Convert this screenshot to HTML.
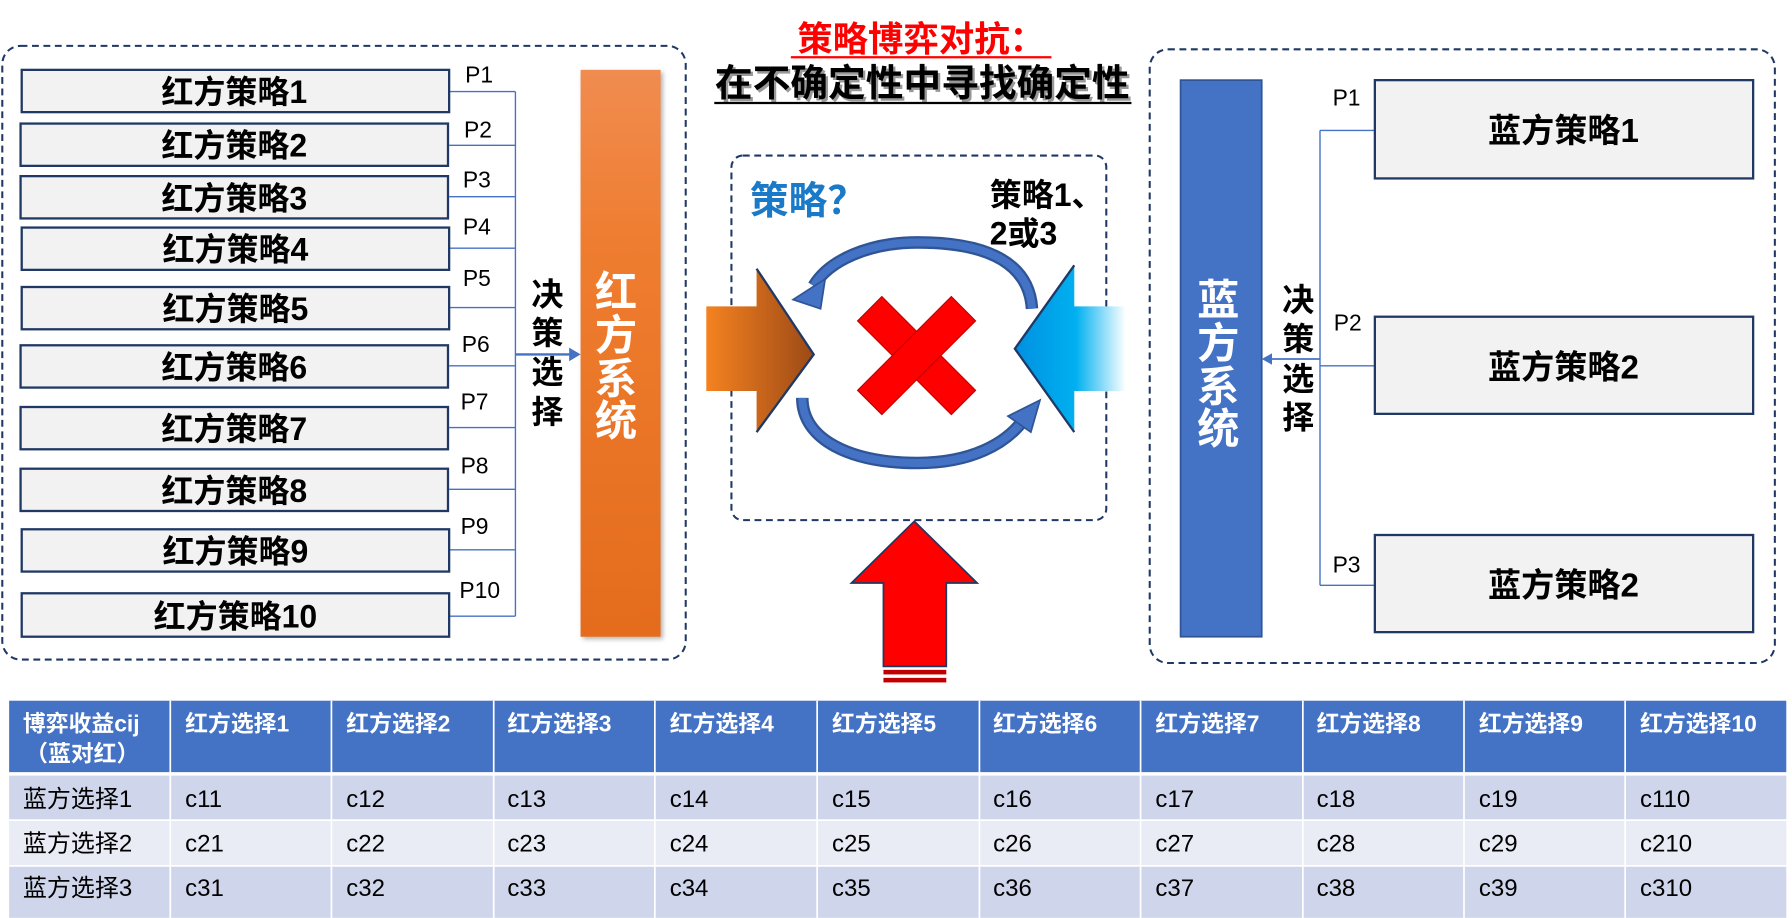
<!DOCTYPE html>
<html><head><meta charset="utf-8"><style>
html,body{margin:0;padding:0;background:#fff;width:1792px;height:918px;overflow:hidden}
svg text{font-family:"Liberation Sans","Noto Sans CJK SC",sans-serif}
</style></head><body>
<svg width="1792" height="918" viewBox="0 0 1568 803" xmlns="http://www.w3.org/2000/svg">
<defs>
<linearGradient id="og" x1="0" y1="0" x2="0" y2="1"><stop offset="0" stop-color="#f08c50"/><stop offset="0.3" stop-color="#ef7d30"/><stop offset="1" stop-color="#e46c1c"/></linearGradient>
<linearGradient id="oa" x1="0" y1="0" x2="1" y2="0"><stop offset="0" stop-color="#f58220"/><stop offset="1" stop-color="#9c4a16"/></linearGradient>
<linearGradient id="ba" x1="1" y1="0" x2="0" y2="0"><stop offset="0" stop-color="#ffffff"/><stop offset="0.45" stop-color="#00b0f0"/><stop offset="1" stop-color="#0090e0"/></linearGradient>
</defs>
<text x="806" y="45" text-anchor="middle" font-size="31" font-weight="bold" fill="#ff0000">策略博弈对抗：</text>
<line x1="692" y1="50" x2="920" y2="50" stroke="#ff0000" stroke-width="2"/>
<text x="809" y="86" text-anchor="middle" font-size="33" font-weight="bold" fill="#999">在不确定性中寻找确定性</text>
<text x="807" y="84" text-anchor="middle" font-size="33" font-weight="bold" fill="#000">在不确定性中寻找确定性</text>
<line x1="625" y1="90" x2="990" y2="90" stroke="#000" stroke-width="2"/>

<rect x="2" y="40" width="598" height="537" rx="16" fill="none" stroke="#1f3864" stroke-width="1.8" stroke-dasharray="6,4"/>
<g stroke="#4472c4" stroke-width="1.2" fill="none">
<line x1="451" y1="80" x2="451" y2="539"/>
<line x1="393" y1="80" x2="451" y2="80"/><line x1="393" y1="127" x2="451" y2="127"/>
<line x1="393" y1="172" x2="451" y2="172"/><line x1="393" y1="217" x2="451" y2="217"/>
<line x1="393" y1="269" x2="451" y2="269"/><line x1="393" y1="320" x2="451" y2="320"/>
<line x1="393" y1="374" x2="451" y2="374"/><line x1="393" y1="428" x2="451" y2="428"/>
<line x1="393" y1="481" x2="451" y2="481"/><line x1="393" y1="539" x2="451" y2="539"/>
<line x1="451" y1="310" x2="500" y2="310" stroke-width="2"/>
</g>
<polygon points="508,310 498,304 498,316" fill="#4472c4"/>
<g fill="#f2f2f2" stroke="#1f3864" stroke-width="2">
<rect x="19" y="61" width="374" height="37"/><rect x="18" y="108" width="374" height="37"/>
<rect x="18" y="154" width="374" height="37"/><rect x="19" y="199" width="374" height="37"/>
<rect x="19" y="251" width="374" height="37"/><rect x="18" y="302" width="374" height="37"/>
<rect x="18" y="356" width="374" height="37"/><rect x="18" y="410" width="374" height="37"/>
<rect x="19" y="463" width="374" height="37"/><rect x="19" y="519" width="374" height="38"/>
</g>
<g font-size="28" font-weight="bold" fill="#000" text-anchor="middle">
<text x="205" y="90">红方策略1</text><text x="205" y="137">红方策略2</text>
<text x="205" y="183">红方策略3</text><text x="206" y="228">红方策略4</text>
<text x="206" y="280">红方策略5</text><text x="205" y="331">红方策略6</text>
<text x="205" y="385">红方策略7</text><text x="205" y="439">红方策略8</text>
<text x="206" y="492">红方策略9</text><text x="206" y="549">红方策略10</text>
</g>
<g font-size="20" fill="#000">
<text x="407" y="72">P1</text><text x="406" y="120">P2</text><text x="405" y="164">P3</text>
<text x="405" y="205">P4</text><text x="405" y="250">P5</text><text x="404" y="308">P6</text>
<text x="403" y="358">P7</text><text x="403" y="414">P8</text><text x="403" y="467">P9</text>
<text x="402" y="523">P10</text>
</g>
<g font-size="28" font-weight="bold" fill="#000" text-anchor="middle">
<text x="479" y="267">决</text><text x="479" y="301">策</text><text x="479" y="335">选</text><text x="479" y="370">择</text>
</g>
<rect x="508" y="61" width="70" height="496" fill="url(#og)" style="filter:drop-shadow(2px 2px 2px rgba(0,0,0,.3))"/>
<g font-size="37" font-weight="bold" fill="#fff" text-anchor="middle">
<text x="539" y="268">红</text><text x="539" y="306">方</text><text x="539" y="344">系</text><text x="539" y="381">统</text>
</g>

<rect x="640" y="136" width="328" height="319" rx="10" fill="none" stroke="#1f3864" stroke-width="1.8" stroke-dasharray="6,4"/>
<text x="656" y="187" font-size="34" font-weight="bold" fill="#1a7ac8">策略？</text>
<text x="866" y="180" font-size="28" font-weight="bold" fill="#000">策略1、</text>
<text x="866" y="214" font-size="28" font-weight="bold" fill="#000">2或3</text>
<polygon points="618,268 662,268 662,235 712,310 662,378 662,342 618,342" fill="url(#oa)"/>
<polyline points="662,235 712,310 662,378" fill="none" stroke="#1f3864" stroke-width="2"/>
<polygon points="985,268 940,268 940,232 888,305 940,378 940,342 985,342" fill="url(#ba)"/>
<polyline points="940,232 888,305 940,378" fill="none" stroke="#1f3864" stroke-width="2"/>
<path d="M903,270 C900,225 855,212 803,212 C760,212 725,228 712,250" fill="none" stroke="#2f5597" stroke-width="11"/>
<path d="M903,270 C900,225 855,212 803,212 C760,212 725,228 712,250" fill="none" stroke="#4472c4" stroke-width="7"/>
<polygon points="694,262 722,244 718,270" fill="#4472c4" stroke="#2f5597" stroke-width="1.5"/>
<path d="M702,348 C702,385 745,405 803,405 C850,405 880,388 895,368" fill="none" stroke="#2f5597" stroke-width="11"/>
<path d="M702,348 C702,385 745,405 803,405 C850,405 880,388 895,368" fill="none" stroke="#4472c4" stroke-width="7"/>
<polygon points="910,350 882,364 902,378" fill="#4472c4" stroke="#2f5597" stroke-width="1.5"/>
<g transform="translate(802,311) rotate(45)">
<rect x="-58" y="-15" width="116" height="30" fill="#ff0000" stroke="#c00000" stroke-width="1"/>
<rect x="-15" y="-58" width="30" height="116" fill="#ff0000" stroke="#c00000" stroke-width="1"/>
<rect x="-14" y="-14" width="28" height="28" fill="#ff0000"/>
</g>
<polygon points="800,456 855,510 828,510 828,583 773,583 773,510 745,510" fill="#ff0000" stroke="#1f3864" stroke-width="1.5"/>
<rect x="773" y="586" width="55" height="4" fill="#c00000"/>
<rect x="773" y="593" width="55" height="4" fill="#c00000"/>

<rect x="1006" y="43" width="547" height="537" rx="16" fill="none" stroke="#1f3864" stroke-width="1.8" stroke-dasharray="6,4"/>
<rect x="1033" y="70" width="71" height="487" fill="#4472c4" stroke="#2f5597" stroke-width="1.5"/>
<g font-size="37" font-weight="bold" fill="#fff" text-anchor="middle">
<text x="1066" y="275">蓝</text><text x="1066" y="313">方</text><text x="1066" y="351">系</text><text x="1066" y="388">统</text>
</g>
<g font-size="28" font-weight="bold" fill="#000" text-anchor="middle">
<text x="1136" y="272">决</text><text x="1136" y="306">策</text><text x="1136" y="341">选</text><text x="1136" y="375">择</text>
</g>
<g stroke="#4472c4" stroke-width="1.2" fill="none">
<line x1="1155" y1="114" x2="1155" y2="512"/>
<line x1="1155" y1="114" x2="1203" y2="114"/>
<line x1="1155" y1="320" x2="1203" y2="320"/>
<line x1="1155" y1="512" x2="1203" y2="512"/>
<line x1="1112" y1="314" x2="1155" y2="314" stroke-width="1.5"/>
</g>
<polygon points="1104,314 1113,309 1113,319" fill="#4472c4"/>
<g fill="#f2f2f2" stroke="#1f3864" stroke-width="2">
<rect x="1203" y="70" width="331" height="86"/>
<rect x="1203" y="277" width="331" height="85"/>
<rect x="1203" y="468" width="331" height="85"/>
</g>
<g font-size="29" font-weight="bold" fill="#000" text-anchor="middle">
<text x="1368" y="124">蓝方策略1</text><text x="1368" y="331">蓝方策略2</text><text x="1368" y="522">蓝方策略2</text>
</g>
<g font-size="20" fill="#000">
<text x="1166" y="92">P1</text><text x="1167" y="289">P2</text><text x="1166" y="501">P3</text>
</g>

<rect x="8" y="613" width="1555" height="63" fill="#4472c4"/>
<rect x="8" y="678" width="1555" height="39" fill="#cfd5ea"/>
<rect x="8" y="718" width="1555" height="39" fill="#e9ebf5"/>
<rect x="8" y="758" width="1555" height="45" fill="#cfd5ea"/>
<line x1="8" y1="677" x2="1563" y2="677" stroke="#fff" stroke-width="3"/>
<line x1="8" y1="717.5" x2="1563" y2="717.5" stroke="#fff" stroke-width="1.5"/>
<line x1="8" y1="757.5" x2="1563" y2="757.5" stroke="#fff" stroke-width="1.5"/>
<g stroke="#fff" stroke-width="1.5">
<line x1="149" y1="613" x2="149" y2="803"/><line x1="290" y1="613" x2="290" y2="803"/>
<line x1="432" y1="613" x2="432" y2="803"/><line x1="573" y1="613" x2="573" y2="803"/>
<line x1="715" y1="613" x2="715" y2="803"/><line x1="857" y1="613" x2="857" y2="803"/>
<line x1="998" y1="613" x2="998" y2="803"/><line x1="1140" y1="613" x2="1140" y2="803"/>
<line x1="1281" y1="613" x2="1281" y2="803"/><line x1="1422" y1="613" x2="1422" y2="803"/>
</g>
<g font-size="20" font-weight="bold" fill="#fff">
<text x="20" y="640">博弈收益cij</text><text x="22" y="666">（蓝对红）</text>
<text x="162" y="640">红方选择1</text><text x="303" y="640">红方选择2</text><text x="444" y="640">红方选择3</text>
<text x="586" y="640">红方选择4</text><text x="728" y="640">红方选择5</text><text x="869" y="640">红方选择6</text>
<text x="1011" y="640">红方选择7</text><text x="1152" y="640">红方选择8</text><text x="1294" y="640">红方选择9</text>
<text x="1435" y="640">红方选择10</text>
</g>
<g font-size="21" fill="#000">
<text x="20" y="706">蓝方选择1</text><text x="162" y="706">c11</text><text x="303" y="706">c12</text><text x="444" y="706">c13</text><text x="586" y="706">c14</text><text x="728" y="706">c15</text><text x="869" y="706">c16</text><text x="1011" y="706">c17</text><text x="1152" y="706">c18</text><text x="1294" y="706">c19</text><text x="1435" y="706">c110</text>
<text x="20" y="745">蓝方选择2</text><text x="162" y="745">c21</text><text x="303" y="745">c22</text><text x="444" y="745">c23</text><text x="586" y="745">c24</text><text x="728" y="745">c25</text><text x="869" y="745">c26</text><text x="1011" y="745">c27</text><text x="1152" y="745">c28</text><text x="1294" y="745">c29</text><text x="1435" y="745">c210</text>
<text x="20" y="784">蓝方选择3</text><text x="162" y="784">c31</text><text x="303" y="784">c32</text><text x="444" y="784">c33</text><text x="586" y="784">c34</text><text x="728" y="784">c35</text><text x="869" y="784">c36</text><text x="1011" y="784">c37</text><text x="1152" y="784">c38</text><text x="1294" y="784">c39</text><text x="1435" y="784">c310</text>
</g>
</svg>
</body></html>
